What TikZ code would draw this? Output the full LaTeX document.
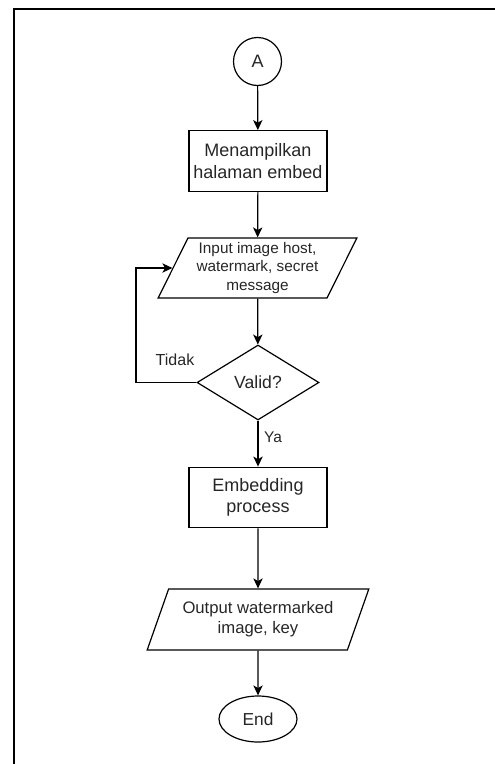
\documentclass[tikz,border=0pt]{standalone}
\usepackage{fontspec}
\setmainfont{Liberation Sans}
\usetikzlibrary{shapes.geometric,arrows.meta}

\tikzset{
  flowline/.style={draw, line width=0.9pt, -{Stealth[length=7.5pt,width=7pt,inset=2pt]}},
  shapeline/.style={draw, line width=0.9pt, text=black!85, align=center, inner sep=0pt},
  procbox/.style={shapeline, rectangle, minimum width=103.5pt, minimum height=45.5pt, font=\fontsize{13.5}{16}\selectfont},
  iobox/.style={shapeline, trapezium, trapezium left angle=63, trapezium right angle=117, trapezium stretches=true},
  decisionbox/.style={shapeline, diamond, aspect=1.63, minimum width=91.5pt, minimum height=56.25pt, font=\fontsize{13.2}{16}\selectfont},
  connectorcircle/.style={shapeline, circle, minimum size=36pt, font=\fontsize{13.5}{16}\selectfont},
  terminalbox/.style={shapeline, ellipse, minimum width=58.5pt, minimum height=34.5pt, font=\fontsize{13}{16}\selectfont},
  branchlabel/.style={text=black!85, inner sep=0pt}
}

\begin{document}
\begin{tikzpicture}[x=0.75pt,y=0.75pt,yscale=-1,xscale=1]
\useasboundingbox (0,0) rectangle (495,764);

% frame
\draw [line width=1.5pt] (13.5,764) -- (13.5,8.5) -- (495,8.5);

% shapes
\node [connectorcircle] (start) at (257.5,61.5) {A};
\node [procbox] (showpage) at (258,161) {Menampilkan\\halaman embed};
\node [iobox, minimum width=149.25pt, minimum height=45pt, font=\fontsize{11.5}{13.9}\selectfont] (input) at (257.5,268) {Input image host,\\watermark, secret\\message};
\node [decisionbox] (valid) at (258,382.5) {Valid?};
\node [procbox] (embed) at (258,497.5) {Embedding\\process};
\node [iobox, minimum width=166.5pt, minimum height=45.75pt, font=\fontsize{12.5}{15}\selectfont] (output) at (258,619.5) {Output watermarked\\image, key};
\node [terminalbox] (finish) at (258,719) {End};

% branch labels
\node [branchlabel, font=\fontsize{12}{14}\selectfont] (nolbl) at (175,360) {Tidak};
\node [branchlabel, font=\fontsize{11.6}{14}\selectfont] (yeslbl) at (273,437) {Ya};

% connectors
\coordinate (loopcorner) at (136,382.5);
\draw [flowline] (start) -- (showpage);
\draw [flowline] (showpage) -- (input);
\draw [flowline] (input) -- (valid);
\draw [flowline] (valid) -- (embed);
\draw [flowline] (embed) -- (output);
\draw [flowline] (output) -- (finish);
\draw [flowline] (valid.west) -- (loopcorner) |- (input.west);

\end{tikzpicture}
\end{document}
